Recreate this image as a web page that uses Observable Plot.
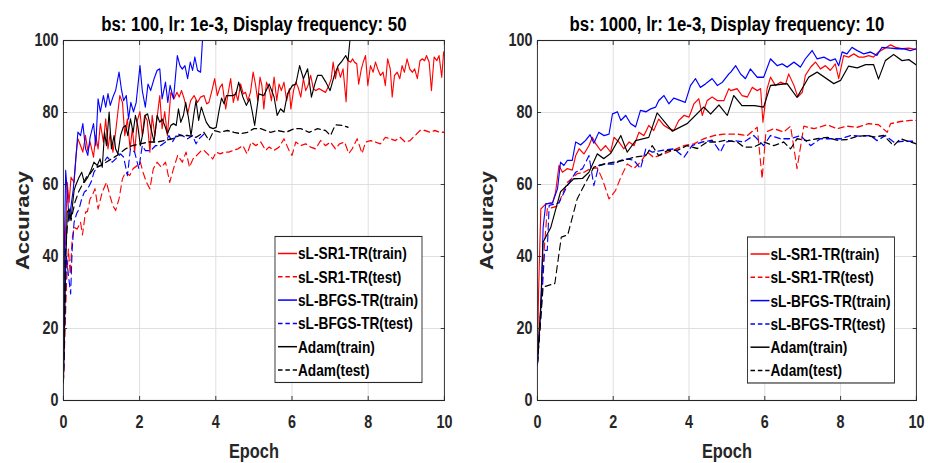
<!DOCTYPE html>
<html><head><meta charset="utf-8">
<script src="https://cdn.jsdelivr.net/npm/d3@7"></script>
<script src="https://cdn.jsdelivr.net/npm/@observablehq/plot@0.6"></script>
<style>
body{margin:0;background:#fff;}
#wrap{position:relative;width:928px;height:463px;overflow:hidden;background:#fff;}
#wrap svg{position:absolute;top:0;transform-origin:0 0;}
</style></head><body><div id="wrap"></div>
<script>
// ---------- labels ----------
const seriesNames = ["sL-SR1-TR(train)","sL-SR1-TR(test)","sL-BFGS-TR(train)","sL-BFGS-TR(test)","Adam(train)","Adam(test)"];
const seriesColors = ["#ff0000","#ff0000","#0000ff","#0000ff","#000000","#000000"];
const seriesDashed = [false,true,false,true,false,true];
const xTicks = [0,2,4,6,8,10];
const yTicks = [0,20,40,60,80,100];
const panelTitles = ["bs: 100, lr: 1e-3, Display frequency: 50","bs: 1000, lr: 1e-3, Display frequency: 10"];
const xLabel = "Epoch";
const yLabel = "Accuracy";

// ---------- left panel (bs 100) : [epoch, accuracy] ----------
const leftSR1Train = [[0,5],[0.05,45],[0.1,60.6],[0.15,55],[0.2,62],[0.28,60.6],[0.33,68],[0.38,72.7],[0.45,70.8],[0.51,69],[0.58,73.6],[0.64,69.4],[0.7,71.8],[0.79,67.6],[0.85,73.6],[0.91,69.9],[0.97,76.9],[1.05,71.8],[1.11,78.2],[1.17,69.9],[1.23,74.5],[1.3,69],[1.37,74.5],[1.43,80.2],[1.48,84.7],[1.55,82.8],[1.61,73.6],[1.68,78.2],[1.75,69.9],[1.81,75.5],[1.87,69],[1.94,77.8],[2.01,80.2],[2.07,73.6],[2.13,79.2],[2.2,77.8],[2.27,69],[2.33,79.2],[2.4,73.6],[2.46,78.7],[2.53,84.7],[2.59,75.5],[2.66,80.2],[2.73,73.6],[2.82,85.6],[2.9,83.8],[2.98,85.6],[3.04,84.3],[3.1,86.1],[3.17,83.8],[3.26,79.6],[3.34,83.3],[3.43,84.7],[3.52,82.8],[3.6,84.3],[3.69,84.7],[3.76,82.4],[3.82,82.8],[3.91,86.6],[3.97,89.4],[4.04,84.7],[4.11,87],[4.17,87.9],[4.26,81],[4.32,85.2],[4.39,89.4],[4.46,82.8],[4.52,85.6],[4.58,83.3],[4.65,87.9],[4.72,85.2],[4.78,85.6],[4.84,83.3],[4.91,85.6],[4.98,91.2],[5.04,87.9],[5.1,83.3],[5.16,89.8],[5.21,87.5],[5.26,81],[5.33,88.4],[5.4,86.6],[5.46,83.3],[5.53,89.8],[5.6,83.3],[5.66,87.9],[5.72,86.1],[5.79,88.4],[5.86,83.3],[5.93,86.6],[5.97,81],[6.04,86.1],[6.1,88.4],[6.16,87],[6.23,84.3],[6.3,89.4],[6.36,86.1],[6.42,87.5],[6.49,90.3],[6.56,86.6],[6.62,86.1],[6.71,86.6],[6.8,86.1],[6.88,85.6],[6.97,87.5],[7.03,89.4],[7.08,94],[7.14,89.4],[7.2,92.6],[7.27,89.8],[7.34,92.1],[7.42,83],[7.47,94.4],[7.54,94],[7.59,94.9],[7.64,94],[7.7,93.5],[7.75,87.9],[7.82,92.1],[7.87,94],[7.93,95.8],[7.99,87.5],[8.06,93],[8.13,91.2],[8.19,94],[8.25,92.1],[8.32,90.3],[8.39,91.2],[8.45,87.5],[8.51,94.9],[8.58,92.1],[8.63,84.3],[8.69,90.3],[8.76,91.2],[8.83,89.4],[8.89,93],[8.95,91.2],[9.02,94.9],[9.09,92.1],[9.16,91.2],[9.22,92.1],[9.29,89.4],[9.36,94.4],[9.42,94.9],[9.48,94.4],[9.53,95.8],[9.6,94],[9.66,86.1],[9.73,95.4],[9.8,94.4],[9.86,95.8],[9.93,89.8],[9.98,96.8],[10,95.8]];
const leftSR1Test = [[0,5],[0.08,32],[0.13,42],[0.18,35],[0.23,45],[0.28,48.1],[0.36,47.6],[0.45,49.5],[0.5,46],[0.58,52.3],[0.63,52.5],[0.7,56],[0.76,57],[0.83,58.8],[0.91,53.2],[1.02,57.9],[1.13,60.6],[1.22,56.9],[1.3,54.1],[1.37,52.8],[1.46,56],[1.55,61.6],[1.63,63.4],[1.74,62.5],[1.83,64.4],[1.94,65.3],[2.02,66.2],[2.09,63.4],[2.18,60.6],[2.27,58.8],[2.36,64.4],[2.46,66.2],[2.57,64.8],[2.68,66.2],[2.79,60.6],[2.89,64.4],[3.0,68.1],[3.12,66.2],[3.22,69],[3.31,64.8],[3.4,67.1],[3.5,68.1],[3.62,69.4],[3.7,69.4],[3.82,68.1],[3.92,67.1],[4.01,69],[4.11,68.5],[4.23,69],[4.34,69],[4.45,69.4],[4.58,69.9],[4.71,70.8],[4.82,68.5],[4.93,71.8],[5.05,70.8],[5.18,71.8],[5.31,69.5],[5.4,70.4],[5.53,69.5],[5.66,70.4],[5.79,72.7],[5.92,69.5],[6.0,68.1],[6.1,71.8],[6.23,70.8],[6.36,71.3],[6.49,70.4],[6.62,69.9],[6.75,72.2],[6.88,70.8],[7.01,71.8],[7.14,69.9],[7.25,71.3],[7.38,71.8],[7.49,68.6],[7.58,69.9],[7.71,72.7],[7.84,68.6],[7.93,71.8],[8.06,72.2],[8.19,71.8],[8.32,71.3],[8.45,73.1],[8.58,72.7],[8.71,72.2],[8.84,73.1],[8.97,71.8],[9.1,72.2],[9.23,73.6],[9.36,75],[9.49,75],[9.62,74.5],[9.75,75],[9.88,74.5],[10,74.5]];
const leftBFGSTrain = [[0,5],[0.03,45.8],[0.06,63.9],[0.1,58],[0.15,50],[0.19,53.2],[0.26,58.8],[0.32,66.2],[0.38,74.5],[0.45,73.6],[0.51,76.9],[0.58,70],[0.64,68.1],[0.7,73.1],[0.79,76.9],[0.85,70.8],[0.91,83.8],[0.97,80.2],[1.05,84.7],[1.11,81.5],[1.17,85.2],[1.23,82],[1.3,84.3],[1.37,86.1],[1.46,91.2],[1.52,86.6],[1.58,83.3],[1.65,84.7],[1.71,78.2],[1.77,82.8],[1.84,80.2],[1.91,82.8],[2.01,93],[2.07,86.1],[2.15,81.5],[2.22,87.9],[2.29,86.1],[2.38,89.4],[2.46,91.7],[2.53,92.1],[2.59,83.8],[2.68,88.4],[2.74,82.8],[2.8,87.5],[2.89,83.8],[2.99,95.8],[3.06,93],[3.12,92.1],[3.19,93],[3.26,89.4],[3.33,94],[3.39,91.7],[3.45,95.4],[3.52,91.7],[3.6,91.2],[3.65,100]];
const leftBFGSTest = [[0,5],[0.08,40],[0.13,35],[0.19,29.6],[0.23,42],[0.28,49.5],[0.35,52],[0.41,53.2],[0.48,56],[0.55,57.9],[0.62,58.5],[0.68,59.7],[0.74,61],[0.8,63.4],[0.89,64.8],[0.98,65.3],[1.06,66.2],[1.15,67.6],[1.28,66.2],[1.37,67.1],[1.5,68.5],[1.58,67.6],[1.68,62.5],[1.76,69.9],[1.87,69],[1.98,64.4],[2.07,70.8],[2.15,69.4],[2.29,69.4],[2.42,70.8],[2.55,70.8],[2.68,71.8],[2.77,73.6],[2.86,71.8],[2.99,74.1],[3.12,73.6],[3.26,72.7],[3.39,73.6],[3.48,71.3],[3.56,72.7],[3.65,73.6],[3.73,74.5]];
const leftAdamTrain = [[0,5],[0.06,37],[0.1,52.3],[0.15,53.2],[0.2,50.5],[0.28,58.3],[0.32,59.7],[0.41,62],[0.48,63.4],[0.55,60.6],[0.64,62],[0.72,63.9],[0.8,66.2],[0.89,65.3],[0.96,67.1],[1.02,64.8],[1.08,74.5],[1.13,70.8],[1.2,80.1],[1.26,69.9],[1.33,73.6],[1.37,69.9],[1.43,68.5],[1.5,73.6],[1.57,75.9],[1.63,76.4],[1.69,73.6],[1.76,78.2],[1.83,74.5],[1.89,79.2],[1.95,76.4],[2.02,70.8],[2.09,74.5],[2.15,79.2],[2.21,79.6],[2.29,75.9],[2.38,71.8],[2.46,79.2],[2.53,77.3],[2.59,78.2],[2.66,76.4],[2.73,74.1],[2.82,76.4],[2.89,76.9],[2.96,76.4],[3.02,81],[3.08,77.3],[3.15,79.2],[3.21,82.8],[3.28,78.7],[3.35,73.6],[3.42,79.2],[3.48,83.3],[3.55,77.8],[3.62,81.5],[3.69,79.2],[3.75,77.3],[3.84,75.9],[3.93,75.5],[4.01,75.9],[4.08,80.2],[4.15,84],[4.22,82.4],[4.28,84.7],[4.36,84.7],[4.45,84.7],[4.53,85.2],[4.6,88.4],[4.71,84.3],[4.8,82],[4.89,83.8],[4.95,80.6],[5.02,76.4],[5.13,85.2],[5.26,84.7],[5.4,87.9],[5.53,84.3],[5.61,79.2],[5.7,81],[5.79,80.1],[5.88,85.2],[6.01,87.5],[6.1,87.9],[6.2,93],[6.3,89.4],[6.41,92.1],[6.51,84.3],[6.6,87.9],[6.67,90.3],[6.78,90.3],[6.89,88.4],[7.0,86.1],[7.11,90.3],[7.21,93],[7.32,94.4],[7.41,95.8],[7.47,94.4],[7.52,100]];
const leftAdamTest = [[0,5],[0.05,40],[0.1,48],[0.15,52],[0.2,50],[0.3,55],[0.4,58],[0.5,60],[0.6,62],[0.7,63],[0.8,64.5],[0.98,65.3],[1.2,66.7],[1.41,68.1],[1.63,69.9],[1.81,70.8],[2.02,71.3],[2.24,71.8],[2.46,71.8],[2.64,72.2],[2.86,72.7],[3.04,73.6],[3.26,73.6],[3.48,73.1],[3.69,74.5],[3.82,72.2],[3.95,75],[4.12,74.5],[4.3,75],[4.48,74.5],[4.65,74.1],[4.83,74.5],[5.0,75.5],[5.18,75.5],[5.44,74.5],[5.62,75],[5.84,74.5],[6.06,75.5],[6.23,75.5],[6.45,74.5],[6.67,75.5],[6.88,75],[7.01,73.6],[7.14,76.6],[7.32,76.4],[7.47,75.9]];

// ---------- right panel (bs 1000) : [epoch, accuracy] ----------
const rightSR1Train = [[0,10],[0.03,30],[0.09,53.2],[0.22,54.6],[0.4,54.9],[0.48,57.9],[0.57,65.3],[0.66,63.4],[0.79,64.4],[0.92,64],[1.01,68],[1.1,69.9],[1.23,68.5],[1.36,70.8],[1.45,73.1],[1.54,71.3],[1.67,69.4],[1.8,70.8],[1.93,69],[2.02,73.1],[2.15,71.8],[2.28,69.9],[2.42,71.8],[2.55,70.8],[2.68,74.5],[2.81,73.6],[2.94,76.4],[3.07,75],[3.2,78.2],[3.34,76.4],[3.47,75.5],[3.6,75],[3.73,77.8],[3.87,79.2],[4.0,78.7],[4.13,82.4],[4.26,83.8],[4.35,79.2],[4.48,83.3],[4.61,84.3],[4.75,83.3],[4.92,83.3],[5.05,86.6],[5.1,86.1],[5.27,86.6],[5.4,84.7],[5.54,84.3],[5.67,87],[5.8,86.1],[5.89,86.6],[5.95,77.3],[6.06,86.6],[6.15,89.8],[6.28,87.5],[6.41,88.4],[6.55,87.9],[6.63,90.7],[6.77,87.5],[6.87,84.3],[6.99,85.6],[7.07,90.3],[7.21,92.6],[7.34,94],[7.47,92.1],[7.6,93],[7.73,91.7],[7.86,93.5],[7.95,89.4],[8.08,95.8],[8.21,95.4],[8.35,96.3],[8.48,95.4],[8.61,95.4],[8.74,95.8],[8.87,95.4],[9.0,96.8],[9.14,97.7],[9.32,98.8],[9.45,98.1],[9.62,97.7],[9.8,97.9],[10,97.5]];
const rightSR1Test = [[0,10],[0.1,28],[0.18,42],[0.26,53.2],[0.53,54],[0.79,60.6],[1.05,63],[1.23,63.4],[1.4,64.4],[1.58,64.6],[1.71,61.6],[1.89,56],[2.06,58.3],[2.2,62],[2.37,65.7],[2.55,64.5],[2.72,66.2],[2.9,69],[3.07,67.5],[3.34,68.5],[3.6,69.6],[3.87,70.8],[4.13,71.3],[4.39,72.7],[4.66,73.6],[4.92,74],[5.27,74],[5.54,73.6],[5.8,75.9],[5.93,61.6],[6.03,74.6],[6.24,75.5],[6.5,74.6],[6.68,76.2],[6.85,64.4],[7.03,76.2],[7.3,75.5],[7.65,76.6],[7.9,75.5],[8.17,76.2],[8.44,75.9],[8.74,76.9],[9.0,76.6],[9.23,74.5],[9.32,76.9],[9.58,77.5],[9.84,77.8],[10,77.8]];
const rightBFGSTrain = [[0,10],[0.1,27],[0.15,48],[0.22,54.6],[0.4,54.9],[0.53,58.8],[0.61,66.2],[0.7,65.3],[0.79,66.7],[0.92,66.7],[1.01,71.8],[1.14,71],[1.27,72.2],[1.39,73.8],[1.49,71.5],[1.62,74.5],[1.76,73.6],[1.89,74],[1.98,79.6],[2.11,80.2],[2.2,77.8],[2.33,79.2],[2.46,76.9],[2.59,76],[2.72,80.6],[2.86,80.2],[2.99,81],[3.12,81.5],[3.2,83.3],[3.34,84.7],[3.47,82.4],[3.6,84],[3.78,83.3],[3.9,82.8],[4.04,87.5],[4.17,89.4],[4.3,87],[4.43,87.9],[4.61,89.4],[4.75,87.5],[4.88,88.4],[5.05,90.7],[5.1,91.2],[5.23,93],[5.36,90.7],[5.49,89.4],[5.62,92.1],[5.8,89.8],[5.97,89.8],[6.15,94.9],[6.33,93],[6.46,93.5],[6.59,92.6],[6.77,94],[6.94,92.6],[7.07,94.9],[7.25,97.2],[7.38,94.9],[7.56,95.4],[7.73,94.4],[7.86,94.9],[7.95,93],[8.04,96.8],[8.17,96.3],[8.3,98.1],[8.44,97.2],[8.61,96.3],[8.79,96.8],[8.96,95.9],[9.09,98.1],[9.32,97.9],[9.49,97.7],[9.67,97.7],[9.84,97.2],[10,97.7]];
const rightBFGSTest = [[0,10],[0.1,25],[0.19,41.7],[0.26,41.7],[0.31,54.2],[0.57,54.9],[0.79,59.7],[1.01,63.4],[1.19,64.4],[1.36,68],[1.49,59.7],[1.62,65.3],[1.8,65.7],[2.02,65.7],[2.2,66.7],[2.37,67.1],[2.55,66.7],[2.72,64.4],[2.86,69.9],[3.03,69],[3.3,69.5],[3.6,69.9],[3.87,67.6],[4.08,70.8],[4.35,71.8],[4.61,72.3],[4.83,69],[4.96,71.8],[5.18,72.2],[5.45,71.8],[5.71,73.6],[5.97,70.8],[6.15,73.6],[6.41,72.7],[6.68,72.7],[6.94,73.6],[7.21,70.8],[7.47,72.7],[7.73,72.7],[8.0,72.7],[8.26,73.6],[8.53,73.4],[8.79,73.6],[8.96,72.2],[9.18,73.6],[9.4,71.8],[9.66,72],[10,72]];
const rightAdamTrain = [[0,10],[0.08,25],[0.15,44],[0.35,48],[0.61,58],[0.96,61.6],[1.19,61.7],[1.36,63.4],[1.58,68.5],[1.75,67.2],[1.93,68.6],[2.2,73.6],[2.37,69],[2.59,72.2],[2.94,73.1],[3.16,79.9],[3.56,74.8],[3.95,76.9],[4.39,81.5],[4.57,79.6],[4.79,82.1],[5.01,79.2],[5.18,84.7],[5.4,81.9],[5.73,81.9],[5.97,81.5],[6.15,87.5],[6.59,88],[6.85,84.2],[7.16,89.8],[7.38,91.2],[7.82,88],[8.0,88.9],[8.21,92.9],[8.44,92.4],[8.66,93.3],[8.87,93.3],[9.0,89.3],[9.18,94.4],[9.4,96.1],[9.62,94.4],[9.8,94.7],[10,93.2]];
const rightAdamTest = [[0,10],[0.15,31.5],[0.46,32.5],[0.63,45.4],[0.8,46],[1.05,56],[1.23,59.7],[1.49,64.8],[1.76,65.7],[2.02,66.2],[2.28,66.7],[2.55,67.6],[2.86,68],[3.03,70.8],[3.2,68],[3.43,69.4],[3.69,69.5],[3.95,70.8],[4.22,70],[4.48,71.8],[4.75,71.8],[4.96,72.3],[5.27,71.8],[5.45,70.4],[5.71,70.4],[5.97,71.8],[6.24,70.8],[6.5,71.8],[6.68,69.9],[6.85,72.7],[7.12,72.2],[7.38,72.7],[7.65,73.1],[7.9,72.3],[8.17,72.5],[8.44,73.4],[8.7,73.6],[8.88,73.2],[9.14,73.6],[9.4,70.8],[9.58,72.7],[9.84,71.8],[10,71.3]];

const leftSeries = [leftSR1Train,leftSR1Test,leftBFGSTrain,leftBFGSTest,leftAdamTrain,leftAdamTest];
const rightSeries = [rightSR1Train,rightSR1Test,rightBFGSTrain,rightBFGSTest,rightAdamTrain,rightAdamTest];

// ---------- drawing ----------
// The original figure is squeezed horizontally (condensed text); reproduce that by
// laying each panel out wider and compressing the whole SVG along x.
const SX = 0.82;
const FONT = "'Liberation Sans', Arial, sans-serif";
const AX = "#262626";

function panel(series, title, cfg) {
  const W = 464 / SX;
  const ml = cfg.ml / SX, mr = cfg.mr / SX;
  const marks = [
    Plot.gridX(xTicks, {stroke: "#dcdcdc", strokeOpacity: 1}),
    Plot.gridY(yTicks, {stroke: "#dcdcdc", strokeOpacity: 1}),
    ...series.map((pts, i) => Plot.line(pts, {
      x: d => d[0], y: d => d[1], stroke: seriesColors[i], strokeWidth: 1.35,
      strokeDasharray: seriesDashed[i] ? "7,4.5" : null, clip: true
    })),
    Plot.frame({stroke: AX, strokeWidth: 1.1}),
    // inward tick marks on all four sides
    Plot.axisX(xTicks, {anchor: "bottom", tickSize: -4, fill: "none", stroke: AX, label: null}),
    Plot.axisX(xTicks, {anchor: "top", tickSize: -4, fill: "none", stroke: AX, label: null}),
    Plot.axisY(yTicks, {anchor: "left", tickSize: -5, fill: "none", stroke: AX, label: null}),
    Plot.axisY(yTicks, {anchor: "right", tickSize: -5, fill: "none", stroke: AX, label: null}),
    // labelled axes
    Plot.axisX(xTicks, {anchor: "bottom", tickSize: 0, tickPadding: 15, fontSize: 17.5, fill: AX,
      label: xLabel, labelAnchor: "center", labelArrow: "none", labelOffset: 58}),
    Plot.axisY(yTicks, {anchor: "left", tickSize: 0, tickPadding: 6, fontSize: 17.5, fill: AX,
      label: yLabel, labelAnchor: "center", labelArrow: "none", labelOffset: ml - 16 / SX}),
    Plot.text([title], {frameAnchor: "top", dy: -15.8, lineAnchor: "middle", fontSize: 20.5, fill: "#000"})
  ];
  const p = Plot.plot({
    width: W, height: 463,
    marginLeft: ml, marginRight: mr, marginTop: 40, marginBottom: 63,
    x: {domain: [0, 10]}, y: {domain: [0, 100]},
    style: {fontFamily: FONT, fontWeight: "bold", fontSize: "17.5px", color: AX, background: "white", overflow: "visible"},
    marks
  });
  const svg = d3.select(p);
  svg.selectAll('[aria-label="x-axis label"] text').attr("font-size", 20);
  svg.selectAll('[aria-label="y-axis label"] text').attr("font-size", 22);
  // legend
  const g = svg.append("g").attr("transform", `translate(${cfg.lx / SX},${cfg.ly})`).attr("text-anchor", "start");
  g.append("rect").attr("width", 147 / SX).attr("height", 146).attr("fill", "white").attr("stroke", AX).attr("stroke-width", 1.1);
  seriesNames.forEach((name, i) => {
    const y = 17 + i * 23.3;
    g.append("line").attr("x1", 3 / SX).attr("x2", 22 / SX).attr("y1", y).attr("y2", y)
      .attr("stroke", seriesColors[i]).attr("stroke-width", 1.5)
      .attr("stroke-dasharray", seriesDashed[i] ? "5.5,3.5" : null);
    g.append("text").attr("x", 23 / SX).attr("y", y).attr("dy", "0.36em").attr("text-anchor", "start")
      .attr("font-size", 16.7).attr("font-weight", "bold").attr("fill", "#000")
      .attr("font-family", FONT).text(name);
  });
  p.style.left = cfg.left + "px";
  p.style.transform = `scaleX(${SX})`;
  return p;
}

const wrap = document.getElementById("wrap");
wrap.append(panel(leftSeries, panelTitles[0], {ml: 63, mr: 20, lx: 275, ly: 236.5, left: 0}));
wrap.append(panel(rightSeries, panelTitles[1], {ml: 73, mr: 12, lx: 283.5, ly: 237, left: 464}));
</script></body></html>
